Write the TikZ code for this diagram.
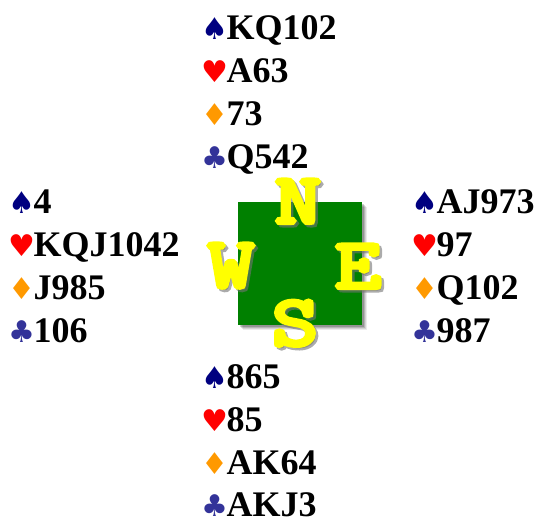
\documentclass[tikz,border=0pt]{standalone}
\usepackage{graphicx}
\usepackage{fontspec}
\setmainfont{Liberation Serif}
\newfontfamily\suitfont{DejaVu Sans}
\newfontfamily\compassfont[FakeBold=6]{Latin Modern Mono}
\definecolor{spadec}{HTML}{000080}
\definecolor{heartc}{HTML}{FF0000}
\definecolor{diamc}{HTML}{FF9900}
\definecolor{clubc}{HTML}{333399}
\definecolor{feltc}{HTML}{008000}
\definecolor{lettc}{HTML}{FFFF00}
\newcommand{\Sp}{{\suitfont\fontsize{30}{30}\selectfont\color{spadec}♠}\kern-1.5pt}
\newcommand{\He}{{\suitfont\fontsize{30}{30}\selectfont\color{heartc}♥}\kern-1.5pt}
\newcommand{\Di}{{\suitfont\fontsize{30}{30}\selectfont\color{diamc}♦}\kern-1.5pt}
\newcommand{\Cl}{{\suitfont\fontsize{30}{30}\selectfont\color{clubc}♣}\kern-1.5pt}
\newcommand{\CL}[1]{\scalebox{1.25}[1]{#1}}
\begin{document}
\begin{tikzpicture}[x=1pt,y=-1pt,
  hand/.style={anchor=base west,inner sep=0pt,font=\fontsize{36}{36}\selectfont\bfseries},
  compass/.style={anchor=base,inner sep=0pt,font=\compassfont\fontsize{71}{71}\selectfont,text=lettc},
  cshadow/.style={anchor=base,inner sep=0pt,font=\compassfont\fontsize{71}{71}\selectfont,text=black!55,opacity=0.6}]
\useasboundingbox (0,0) rectangle (537,520);
% board
\foreach \d/\o in {5/0.08,4/0.1,3/0.14,2/0.18}{
  \fill[black,opacity=\o] (238+\d,202+\d) rectangle (362+\d,325+\d);}
\fill[feltc] (238,202) rectangle (362,325);
\node[cshadow] (nsh) at (300.5,225.5) {\CL{N}};
\node[cshadow] (wsh) at (233.5,289.5) {\CL{W}};
\node[cshadow] (esh) at (360.5,290.5) {\CL{E}};
\node[cshadow] (ssh) at (297.5,347.5) {\CL{S}};
\node[compass] (cn) at (298,223) {\CL{N}};
\node[compass] (cw) at (231,287) {\CL{W}};
\node[compass] (ce) at (358,288) {\CL{E}};
\node[compass] (cs) at (295,345) {\CL{S}};
% North
\node[hand] (n1) at (201,39) {\Sp KQ102};
\node[hand] (n2) at (201,82) {\He A63};
\node[hand] (n3) at (201,125) {\Di 73};
\node[hand] (n4) at (201,168) {\Cl Q542};
% West
\node[hand] (w1) at (8,213) {\Sp 4};
\node[hand] (w2) at (8,256) {\He KQJ1042};
\node[hand] (w3) at (8,299) {\Di J985};
\node[hand] (w4) at (8,342) {\Cl 106};
% East
\node[hand] (e1) at (411,213) {\Sp AJ973};
\node[hand] (e2) at (411,256) {\He 97};
\node[hand] (e3) at (411,299) {\Di Q102};
\node[hand] (e4) at (411,342) {\Cl 987};
% South
\node[hand] (s1) at (201,388) {\Sp 865};
\node[hand] (s2) at (201,431) {\He 85};
\node[hand] (s3) at (201,474) {\Di AK64};
\node[hand] (s4) at (201,516) {\Cl AKJ3};
\end{tikzpicture}
\end{document}
